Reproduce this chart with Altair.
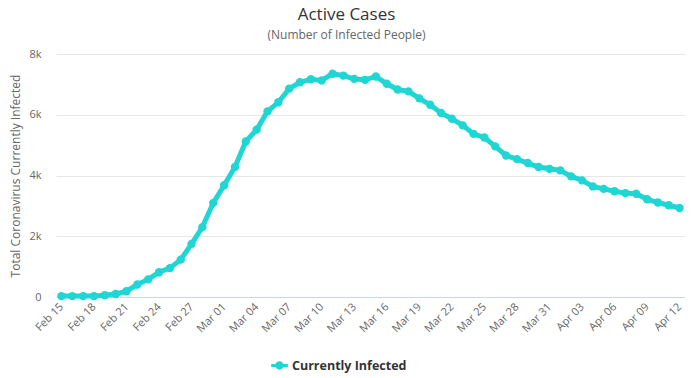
import datetime
import altair as alt
import pandas as pd

start = datetime.date(2020, 2, 15)
dates = [(start + datetime.timedelta(days=i)).strftime("%b %d") for i in range(58)]

active = [
    30, 30, 30, 30, 60, 100, 190, 410, 580, 815, 950, 1230, 1750, 2300, 3100,  # Feb 15-29
    3680, 4280, 5120, 5510, 6110, 6410, 6860, 7070, 7170, 7130, 7350, 7290, 7180,
    7150, 7260, 7020, 6830, 6770, 6540, 6330, 6060, 5870, 5650, 5370, 5250, 4960,
    4660, 4540, 4410, 4280, 4220,  # Mar 01-31
    4170, 3970, 3840, 3640, 3560, 3480, 3420, 3400, 3220, 3110, 3020, 2930,  # Apr 01-12
]
series_name = "Currently Infected"
tick_labels = dates[::3]
y_ticks = [0, 2000, 4000, 6000, 8000]

COLOR = "#1fd6d4"
FONT = "Open Sans"

df = pd.DataFrame({"date": dates, "active": active, "series": series_name})

# line segment with a dot, both drawn clockwise so they fill together
legend_path = ("M -1 -0.17 L 1 -0.17 L 1 0.17 L -1 0.17 Z "
               "M -0.5 0 A 0.5 0.5 0 1 1 0.5 0 A 0.5 0.5 0 1 1 -0.5 0 Z")

chart = alt.Chart(df).mark_line(
    strokeWidth=5,
    point=alt.OverlayMarkDef(size=70, filled=True, opacity=1),
).encode(
    x=alt.X("date:N", sort=dates, title=None,
            scale=alt.Scale(type="point", padding=0.5),
            axis=alt.Axis(values=tick_labels, labelAngle=-45, labelAlign="right",
                          labelBaseline="middle", labelPadding=8, ticks=False,
                          domainColor="#ccd6eb", labelColor="#666666",
                          labelFontSize=11, labelFont=FONT, grid=False)),
    y=alt.Y("active:Q", title="Total Coronavirus Currently Infected",
            scale=alt.Scale(domain=[0, 8000], nice=False),
            axis=alt.Axis(values=y_ticks, ticks=False, domain=False,
                          labelExpr="datum.value == 0 ? '0' : (datum.value / 1000) + 'k'",
                          labelPadding=15, labelColor="#666666", labelFontSize=11,
                          labelFont=FONT, gridColor="#e6e6e6",
                          titleColor="#666666", titleFontSize=12, titleFont=FONT,
                          titleFontWeight="normal", titleX=-41, titleY=121.5,
                          titleAlign="center", titleBaseline="middle")),
    color=alt.Color("series:N", scale=alt.Scale(range=[COLOR]),
                    legend=alt.Legend(title=None, orient="none", legendX=215, legendY=303,
                                      symbolType=legend_path, symbolSize=280,
                                      symbolStrokeWidth=0, symbolFillColor=COLOR,
                                      symbolOpacity=1,
                                      labelFontSize=12.5, labelFontWeight="bold",
                                      labelColor="#333333", labelFont=FONT)),
).properties(
    width=629,
    height=243,
    title=alt.TitleParams(
        text="Active Cases",
        subtitle="(Number of Infected People)",
        anchor="middle", dx=-24, offset=6,
        fontSize=17, fontWeight="normal", color="#333333", font=FONT,
        subtitleFontSize=12, subtitleColor="#666666", subtitleFont=FONT,
        subtitlePadding=6,
    ),
    autosize=alt.AutoSizeParams(type="none"),
    padding={"left": 48, "top": 46, "right": 0, "bottom": 78},
).configure_view(stroke=None)

chart.save("out.html", embed_options={"renderer": "svg", "actions": False})
